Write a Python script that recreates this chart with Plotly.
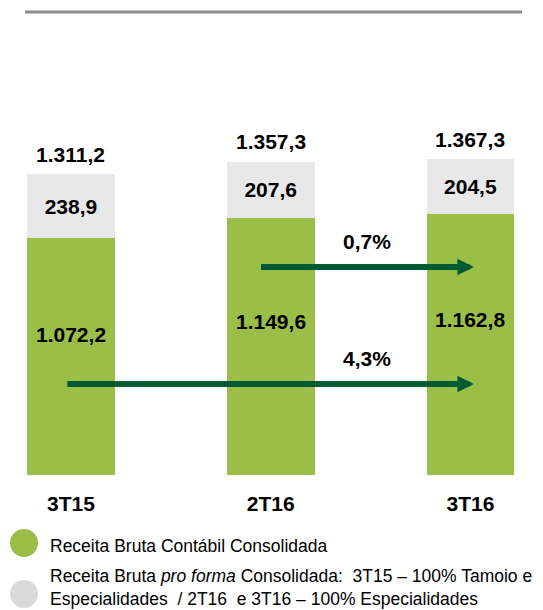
import plotly.graph_objects as go

# dados (R$ milhões)
categorias = ["3T15", "2T16", "3T16"]
receita_contabil = [1072.2, 1149.6, 1162.8]
receita_pro_forma_extra = [238.9, 207.6, 204.5]
receita_pro_forma_total = [1311.2, 1357.3, 1367.3]
crescimento_labels = ["0,7%", "4,3%"]

VERDE = "#9BBE48"
CINZA = "#E8E8E8"
VERDE_ESCURO = "#005A32"
FONTE = "Liberation Sans, Arial, sans-serif"

# a página tem margem de 8px no body
OFF = 8
W, H = 543 - OFF, 610 - OFF
MARGIN_B = 135
PLOT_H = H - MARGIN_B
# o gráfico original não começa em zero
Y_MIN, Y_MAX = 191, 1930


def px_to_y(py):
    # pixel vertical (na janela) -> valor no eixo y
    return (PLOT_H - (py - OFF)) / PLOT_H * (Y_MAX - Y_MIN) + Y_MIN


def px_to_paper_y(py):
    return (PLOT_H - (py - OFF)) / PLOT_H


def px_to_paper_x(px):
    return (px - OFF) / W


def fmt_br(v):
    return f"{v:,.1f}".replace(",", "X").replace(".", ",").replace("X", ".")


fig = go.Figure()

fig.add_trace(go.Bar(
    x=categorias, y=receita_contabil, name="Receita Bruta Contábil Consolidada",
    marker=dict(color=VERDE, line=dict(width=0)), width=0.44,
    textposition="none", hoverinfo="skip",
))
fig.add_trace(go.Bar(
    x=categorias, y=receita_pro_forma_extra, name="Receita Bruta pro forma",
    marker=dict(color=CINZA, line=dict(width=0)), width=0.44,
    texttemplate="%{y:,.1f}", textposition="inside", insidetextanchor="middle",
    textangle=0, textfont=dict(family=FONTE, size=21, color="black", weight="bold"),
    hoverinfo="skip",
))

annotations = []

# rótulos dentro da parte verde
for cat, v in zip(categorias, receita_contabil):
    annotations.append(dict(
        x=cat, y=Y_MIN + 0.595 * (v - Y_MIN), text=f"<b>{fmt_br(v)}</b>",
        showarrow=False, font=dict(family=FONTE, size=21, color="black"),
    ))

# totais pro forma acima das barras
for cat, v in zip(categorias, receita_pro_forma_total):
    annotations.append(dict(
        x=cat, y=v, text=f"<b>{fmt_br(v)}</b>", showarrow=False, yanchor="middle",
        yshift=20, font=dict(family=FONTE, size=21, color="black"),
    ))

# setas de crescimento
setas = [
    (0.944, 2.017, px_to_y(267), crescimento_labels[0]),
    (-0.025, 2.017, px_to_y(384), crescimento_labels[1]),
]
for x0, x1, yy, lab in setas:
    annotations.append(dict(
        x=x1, y=yy, ax=x0, ay=yy, xref="x", yref="y", axref="x", ayref="y",
        text="", showarrow=True, arrowhead=2, arrowsize=0.55, arrowwidth=6,
        arrowcolor=VERDE_ESCURO, standoff=0,
    ))
    annotations.append(dict(
        x=1.48, y=yy, yshift=26, text=f"<b>{lab}</b>", showarrow=False,
        font=dict(family=FONTE, size=21, color="black"),
    ))

# título cortado no topo
annotations.append(dict(
    x=px_to_paper_x(279), y=px_to_paper_y(4), xref="paper", yref="paper",
    xanchor="center", yanchor="bottom", text="(R$ milhões)", showarrow=False,
    font=dict(family=FONTE, size=17, color="#404040"),
))

# legenda manual
annotations.append(dict(
    x=px_to_paper_x(48), y=px_to_paper_y(546), xref="paper", yref="paper",
    xanchor="left", yanchor="middle", showarrow=False,
    text="Receita Bruta Contábil Consolidada",
    font=dict(family=FONTE, size=17.5, color="black"),
))
annotations.append(dict(
    x=px_to_paper_x(48), y=px_to_paper_y(587), xref="paper", yref="paper",
    xanchor="left", yanchor="middle", showarrow=False, align="left",
    text="Receita Bruta <i>pro forma</i> Consolidada:\u00a0 3T15 – 100% Tamoio e<br>"
         "Especialidades\u00a0 / 2T16\u00a0 e 3T16 – 100% Especialidades",
    font=dict(family=FONTE, size=17.5, color="black"),
))

shapes = [
    dict(type="line", xref="paper", yref="paper",
         x0=px_to_paper_x(25), x1=px_to_paper_x(522),
         y0=px_to_paper_y(12), y1=px_to_paper_y(12),
         line=dict(color="#8C8C8C", width=3)),
]
for cy, cor in [(543, VERDE), (594, "#D9D9D9")]:
    shapes.append(dict(
        type="circle", xref="paper", yref="paper", xsizemode="pixel", ysizemode="pixel",
        xanchor=px_to_paper_x(24), yanchor=px_to_paper_y(cy),
        x0=-14, x1=14, y0=-14, y1=14, fillcolor=cor, line=dict(width=0),
    ))

fig.update_layout(
    width=W, height=H, barmode="stack", showlegend=False,
    separators=",.", plot_bgcolor="white", paper_bgcolor="white",
    margin=dict(l=0, r=0, t=0, b=MARGIN_B),
    annotations=annotations, shapes=shapes,
    xaxis=dict(range=[-0.315, 2.363], showline=False, showgrid=False, zeroline=False,
               ticks="", ticklabelstandoff=14,
               tickfont=dict(family=FONTE, size=21, color="black", weight="bold")),
    yaxis=dict(range=[Y_MIN, Y_MAX], visible=False),
)

fig.write_html("out.html")
